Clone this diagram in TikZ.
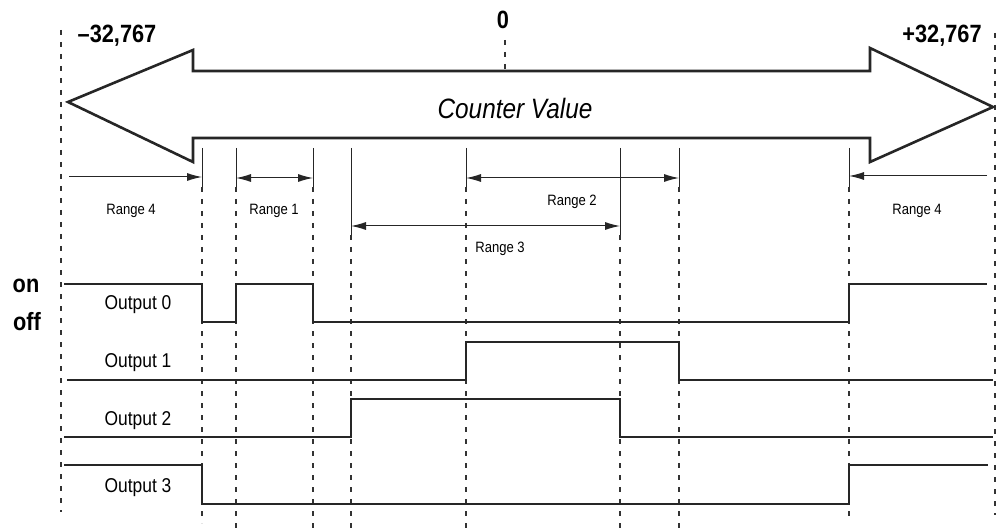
\documentclass[tikz,border=0pt]{standalone}
\usepackage{fontspec}
\setmainfont{Liberation Sans}
\newfontfamily\condfont[FakeStretch=0.87,Ligatures=TeX]{Liberation Sans}
\usetikzlibrary{arrows.meta}
\tikzstyle{bigarrow} = [line width=2.6pt, draw=black!85, line join=miter]
\tikzstyle{wave} = [line width=1.3pt, draw=black!85]
\tikzstyle{guide} = [line width=1.3pt, draw=black!80, dash pattern=on 5pt off 7pt]
\tikzstyle{tickline} = [line width=1pt, draw=black!85]
\tikzstyle{rangearrow} = [line width=1pt, draw=black!85, {Latex[length=15pt,width=8pt]}-{Latex[length=15pt,width=8pt]}]
\tikzstyle{rangeend} = [line width=1pt, draw=black!85, -{Latex[length=15pt,width=8pt]}]
\tikzstyle{rlabel} = [font=\condfont\fontsize{15}{18}\selectfont, inner sep=0pt]
\tikzstyle{olabel} = [font=\condfont\fontsize{20}{24}\selectfont, inner sep=0pt]
\tikzstyle{vlabel} = [font=\condfont\bfseries\fontsize{25}{30}\selectfont, inner sep=0pt]
\begin{document}
\begin{tikzpicture}[x=1pt,y=-1pt]
	\useasboundingbox (0,0) rectangle (1003,529);
	% limits and zero
	\node at (117,36) [vlabel] (vmin) {--32,767};
	\node at (942,36) [vlabel] (vmax) {+32,767};
	\node at (503,20) [vlabel] (vzero) {0};
	\draw[guide] (61,30) -- (61,512);
	\draw[guide] (995,33) -- (995,515);
	\draw[guide] (505,40) -- (505,71);
	% counter arrow
	\draw[bigarrow] (68,102) -- (193,50) -- (193,71) -- (870,71) -- (870,48) -- (993,107)
		-- (870,162) -- (870,138) -- (193,138) -- (193,162) -- cycle;
	\node at (515,108) [olabel, font=\condfont\itshape\fontsize{28}{32}\selectfont] (cv) {Counter Value};
	% switch points
	\foreach \n/\x/\s/\e in {1/202/187/523, 2/236/187/529, 3/313/187/529, 4/351/235/529,
		5/466/187/529, 6/620/235/529, 7/679/187/529, 8/849/187/520}{
		\coordinate (g\n) at (\x,148);
		\coordinate (h\n) at (\x,\s);
		\draw[tickline] (g\n) -- (h\n);
		\draw[guide] (h\n) -- (\x,\e);
	}
	% ranges
	\coordinate (ra) at (0,178);
	\coordinate (rb) at (0,226);
	\coordinate (lend) at (69,177);
	\coordinate (rend) at (987,176);
	\draw[rangeend] (lend) -- (g1 |- lend);
	\draw[rangearrow] (g2 |- ra) -- (g3 |- ra);
	\draw[rangearrow] (g5 |- ra) -- (g7 |- ra);
	\draw[rangearrow] (g4 |- rb) -- (g6 |- rb);
	\draw[rangeend] (rend) -- (g8 |- rend);
	\node at (131,211) [rlabel] (r4a) {Range 4};
	\node at (274,211) [rlabel] (r1) {Range 1};
	\node at (572,202) [rlabel] (r2) {Range 2};
	\node at (500,249) [rlabel] (r3) {Range 3};
	\node at (917,211) [rlabel] (r4b) {Range 4};
	% outputs
	\node at (26,286) [vlabel, font=\condfont\bfseries\fontsize{25}{28}\selectfont] (on) {on};
	\node at (27,322) [vlabel, font=\condfont\bfseries\fontsize{25}{28}\selectfont] (off) {off};
	\draw[wave] (64,284) -- (202,284) -- (202,322) -- (236,322) -- (236,284) -- (313,284)
		-- (313,322) -- (849,322) -- (849,284) -- (987,284);
	\draw[wave] (67,380) -- (466,380) -- (466,342) -- (679,342) -- (679,380) -- (993,380);
	\draw[wave] (64,437) -- (351,437) -- (351,399) -- (620,399) -- (620,437) -- (993,437);
	\draw[wave] (64,465) -- (202,465) -- (202,504) -- (849,504) -- (849,465) -- (988,465);
	\node at (138,305) [olabel] (o0) {Output 0};
	\node at (138,363) [olabel] (o1) {Output 1};
	\node at (138,421) [olabel] (o2) {Output 2};
	\node at (138,488) [olabel] (o3) {Output 3};
\end{tikzpicture}
\end{document}
